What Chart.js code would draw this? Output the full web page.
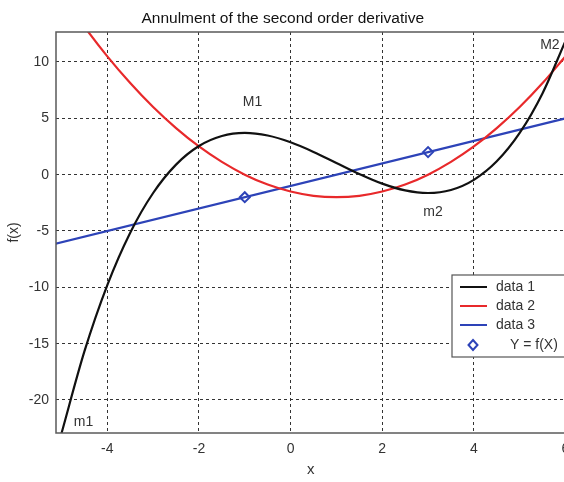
<!DOCTYPE html>
<html>
<head>
<meta charset="utf-8">
<script src="https://cdn.jsdelivr.net/npm/chart.js@4/dist/chart.umd.min.js"></script>
<style>
  html, body { margin: 0; padding: 0; background: #fff; overflow: hidden; }
  #wrap { width: 584px; height: 482px; }
</style>
</head>
<body>
<div id="wrap"><canvas id="chart" width="584" height="482"></canvas></div>
<script>
// x positions where the curves were read
const xs = [-5, -4.5, -4, -3.5, -3, -2.5, -2, -1.5, -1, -0.5, 0, 0.5, 1, 1.5, 2, 2.5, 3, 3.5, 4, 4.5, 5, 5.5, 6];
// data 1 (black cubic)
const data1 = [-22.96, -15.69, -9.8, -5.15, -1.63, 0.89, 2.54, 3.43, 3.7, 3.47, 2.87, 2.02, 1.04, 0.06, -0.8, -1.4, -1.63, -1.36, -0.46, 1.18, 3.7, 7.23, 11.87];
// data 2 (red parabola)
const data2 = [16, 13.13, 10.5, 8.13, 6, 4.13, 2.5, 1.13, 0, -0.88, -1.5, -1.88, -2, -1.88, -1.5, -0.88, 0, 1.13, 2.5, 4.13, 6, 8.13, 10.5];
// data 3 (blue line)
const lineX = [-5.2, 6];
const data3 = [-6.2, 5];
// Y = f(X) markers
const markX = [-1, 3];
const markY = [-2, 2];

const xTicks = [-4, -2, 0, 2, 4, 6];
const yTicks = [-20, -15, -10, -5, 0, 5, 10];

const notes = [
  { text: "M1", x: -0.83, y: 6.4 },
  { text: "m2", x: 3.11, y: -3.3 },
  { text: "M2", x: 5.66, y: 11.5 },
  { text: "m1", x: -4.52, y: -22.0 }
];

const FONT = "'Liberation Sans', Arial, sans-serif";

function pts(xv, yv) {
  return xv.map((x, i) => ({ x: x, y: yv[i] }));
}

// frame, annotations and legend box
const extras = {
  id: "extras",
  afterDatasetsDraw(chart) {
    const ctx = chart.ctx;
    const a = chart.chartArea;
    const sx = chart.scales.x, sy = chart.scales.y;
    ctx.save();
    ctx.strokeStyle = "#5a5a5a";
    ctx.lineWidth = 1.5;
    ctx.strokeRect(a.left, a.top, a.right - a.left, a.bottom - a.top);

    ctx.font = "14px " + FONT;
    ctx.fillStyle = "#333";
    ctx.textAlign = "center";
    ctx.textBaseline = "middle";
    notes.forEach(n => {
      ctx.fillText(n.text, sx.getPixelForValue(n.x), sy.getPixelForValue(n.y));
    });

    // legend
    const bx = 452, by = 275, bw = 140, bh = 82;
    ctx.fillStyle = "#fff";
    ctx.fillRect(bx, by, bw, bh);
    ctx.strokeStyle = "#555";
    ctx.lineWidth = 1.2;
    ctx.strokeRect(bx, by, bw, bh);
    const rows = [287, 306, 325, 345];
    ctx.textAlign = "left";
    chart.data.datasets.forEach((ds, i) => {
      const y = rows[i];
      if (ds.showLine === false) {
        const cx = 473;
        ctx.beginPath();
        ctx.moveTo(cx, y - 5); ctx.lineTo(cx + 4.5, y); ctx.lineTo(cx, y + 5); ctx.lineTo(cx - 4.5, y);
        ctx.closePath();
        ctx.strokeStyle = ds.borderColor;
        ctx.lineWidth = 2;
        ctx.stroke();
        ctx.fillStyle = "#333";
        ctx.fillText(ds.label, 510, y);
      } else {
        ctx.beginPath();
        ctx.moveTo(460, y); ctx.lineTo(487, y);
        ctx.strokeStyle = ds.borderColor;
        ctx.lineWidth = 2;
        ctx.stroke();
        ctx.fillStyle = "#333";
        ctx.fillText(ds.label, 496, y);
      }
    });
    ctx.restore();
  }
};

new Chart(document.getElementById("chart"), {
  type: "line",
  data: {
    datasets: [
      { label: "data 1", data: pts(xs, data1), borderColor: "#111", borderWidth: 2.2, pointRadius: 0, cubicInterpolationMode: "monotone" },
      { label: "data 2", data: pts(xs, data2), borderColor: "#e8292b", borderWidth: 2.2, pointRadius: 0, cubicInterpolationMode: "monotone" },
      { label: "data 3", data: pts(lineX, data3), borderColor: "#2d43b8", borderWidth: 2.2, pointRadius: 0 },
      { label: "Y = f(X)", data: pts(markX, markY), borderColor: "#2d43b8", backgroundColor: "rgba(255,255,255,0)",
        showLine: false, pointStyle: "rectRot", pointRadius: 5, pointBorderWidth: 2 }
    ]
  },
  options: {
    responsive: false,
    animation: false,
    layout: { padding: { left: 0, right: 18.5, top: 0, bottom: 0 } },
    plugins: {
      legend: { display: false },
      tooltip: { enabled: false },
      title: {
        display: true,
        text: "Annulment of the second order derivative",
        color: "#111",
        font: { family: FONT, size: 15.5, weight: "normal" },
        padding: { top: 9, bottom: 4.4 }
      }
    },
    scales: {
      x: {
        type: "linear",
        min: -5.12,
        max: 6,
        afterBuildTicks: s => { s.ticks = xTicks.map(v => ({ value: v })); },
        afterFit: s => { s.height = 49; },
        grid: { color: "#333", lineWidth: 1, drawTicks: false },
        border: { display: false, dash: [3, 3] },
        ticks: { color: "#333", padding: 8, font: { family: FONT, size: 14 } },
        title: { display: true, text: "x", color: "#333", font: { family: FONT, size: 15 }, padding: { top: 0, bottom: 3 } }
      },
      y: {
        type: "linear",
        min: -22.93,
        max: 12.66,
        afterBuildTicks: s => { s.ticks = yTicks.map(v => ({ value: v })); },
        afterFit: s => { s.width = 56; },
        grid: { color: "#333", lineWidth: 1, drawTicks: false },
        border: { display: false, dash: [3, 3] },
        ticks: { color: "#333", padding: 7, font: { family: FONT, size: 14 } },
        title: { display: true, text: "f(x)", color: "#333", font: { family: FONT, size: 14 }, padding: { top: 6, bottom: 0 } }
      }
    }
  },
  plugins: [extras]
});
</script>
</body>
</html>
